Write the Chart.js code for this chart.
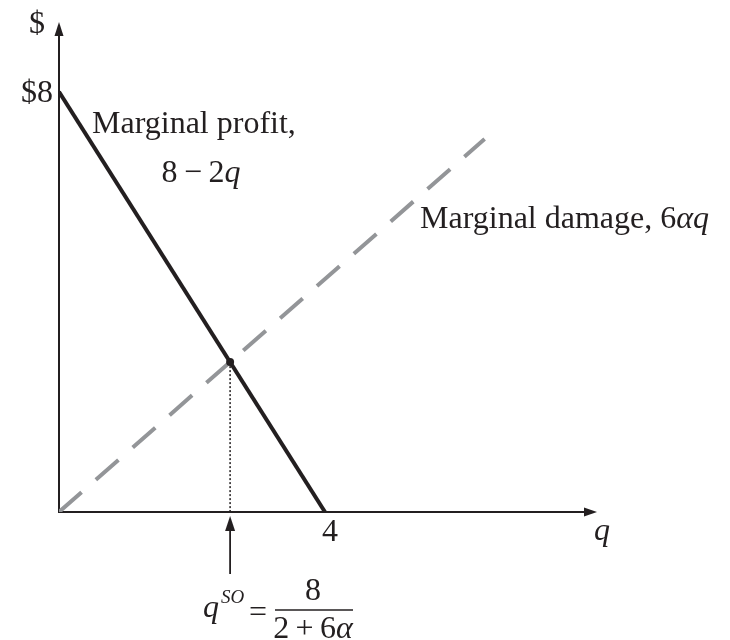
<!DOCTYPE html>
<html>
<head>
<meta charset="utf-8">
<script src="https://cdn.jsdelivr.net/npm/chart.js@4"></script>
<style>
  html, body { margin: 0; padding: 0; background: #fff; }
  canvas { display: block; }
</style>
</head>
<body>
<canvas id="chart" width="730" height="640"></canvas>
<script>
'use strict';

// marginal profit 8 - 2q, from the $8 intercept down to q = 4
const profitQ = [0, 4];
const profitY = [8, 0];

// marginal damage 6αq, dashed ray from the origin
const damageQ = [0, 6.4];
const damageY = [0, 7.1];

// where the two curves cross: q = 8 / (2 + 6α)
const damageSlope = damageY[1] / damageQ[1];
const qSO = 8 / (2 + damageSlope);
const ySO = 8 - 2 * qSO;

const xMax = 8.09;
const yMax = 9.33;

const INK = '#231f20';
const GREY = '#939598';
const SERIF = '"Liberation Serif", "Times New Roman", serif';
const FS = 32;

const pts = (xs, ys) => xs.map((x, i) => ({ x, y: ys[i] }));

// draws a run of [text, italic, size] pieces left to right
function drawRuns(ctx, x, y, runs) {
  runs.forEach(([txt, italic, size]) => {
    ctx.font = `${italic ? 'italic ' : ''}${size || FS}px ${SERIF}`;
    ctx.fillText(txt, x, y);
    x += ctx.measureText(txt).width;
  });
  return x;
}

function runsWidth(ctx, runs) {
  let w = 0;
  runs.forEach(([txt, italic, size]) => {
    ctx.font = `${italic ? 'italic ' : ''}${size || FS}px ${SERIF}`;
    w += ctx.measureText(txt).width;
  });
  return w;
}

function arrowHead(ctx, tipX, tipY, dir, len, half) {
  ctx.beginPath();
  if (dir === 'up') {
    ctx.moveTo(tipX, tipY);
    ctx.lineTo(tipX - half, tipY + len);
    ctx.lineTo(tipX + half, tipY + len);
  } else {
    ctx.moveTo(tipX, tipY);
    ctx.lineTo(tipX - len, tipY - half);
    ctx.lineTo(tipX - len, tipY + half);
  }
  ctx.closePath();
  ctx.fill();
}

const axesAndLabels = {
  id: 'axesAndLabels',
  beforeDatasetsDraw(chart) {
    const { ctx, scales: { x, y } } = chart;
    const x0 = x.getPixelForValue(0), y0 = y.getPixelForValue(0);
    const xEnd = x.getPixelForValue(xMax), yEnd = y.getPixelForValue(yMax);

    ctx.save();
    ctx.strokeStyle = INK;
    ctx.fillStyle = INK;
    ctx.lineWidth = 2;
    ctx.beginPath();
    ctx.moveTo(x0, yEnd + 10);
    ctx.lineTo(x0, y0);
    ctx.lineTo(xEnd - 10, y0);
    ctx.stroke();
    arrowHead(ctx, x0, yEnd, 'up', 14, 4.5);
    arrowHead(ctx, xEnd, y0, 'right', 13, 4.5);

    // drop line from the crossing to the q axis
    ctx.lineWidth = 1.5;
    ctx.setLineDash([2, 2]);
    ctx.beginPath();
    ctx.moveTo(x.getPixelForValue(qSO), y.getPixelForValue(ySO));
    ctx.lineTo(x.getPixelForValue(qSO), y0);
    ctx.stroke();
    ctx.restore();
  },
  afterDraw(chart) {
    const { ctx, scales: { x, y } } = chart;
    const y0 = y.getPixelForValue(0);
    const px = x.getPixelForValue(qSO);

    ctx.save();
    ctx.fillStyle = INK;
    ctx.strokeStyle = INK;
    ctx.textBaseline = 'alphabetic';

    // pointer under the axis
    ctx.lineWidth = 1.8;
    ctx.beginPath();
    ctx.moveTo(px, y0 + 62);
    ctx.lineTo(px, y0 + 14);
    ctx.stroke();
    arrowHead(ctx, px, y0 + 4, 'up', 15, 5);

    // axis labels
    ctx.textAlign = 'left';
    drawRuns(ctx, 29, 33, [['$', false]]);
    ctx.textAlign = 'right';
    drawRuns(ctx, 53, y.getPixelForValue(8) + 10, [['$8', false]]);
    ctx.textAlign = 'center';
    ctx.font = `${FS}px ${SERIF}`;
    ctx.fillText('4', x.getPixelForValue(4) + 5, y0 + 29);
    ctx.textAlign = 'left';
    drawRuns(ctx, 594, y0 + 28, [['q', true]]);

    // curve labels
    drawRuns(ctx, 92, 133, [['Marginal profit,', false]]);
    const mp = [['8', false], ['\u2009\u2212\u2009', false], ['2', false], ['q', true]];
    drawRuns(ctx, 201 - runsWidth(ctx, mp) / 2, 182, mp);
    drawRuns(ctx, 420, 228, [['Marginal damage, ', false], ['6', false], ['\u03b1q', true]]);

    // q^SO = 8 / (2 + 6α)
    drawRuns(ctx, 203, 617, [['q', true]]);
    drawRuns(ctx, 221, 603, [['SO', true, 19]]);
    drawRuns(ctx, 249, 622, [['=', false]]);
    ctx.lineWidth = 1.5;
    ctx.beginPath();
    ctx.moveTo(275, 610);
    ctx.lineTo(353, 610);
    ctx.stroke();
    const num = [['8', false]];
    drawRuns(ctx, 313 - runsWidth(ctx, num) / 2, 600, num);
    const den = [['2', false], ['\u2009+\u2009', false], ['6', false], ['\u03b1', true]];
    drawRuns(ctx, 313 - runsWidth(ctx, den) / 2, 638, den);
    ctx.restore();
  },
};

new Chart(document.getElementById('chart'), {
  type: 'scatter',
  data: {
    datasets: [
      {
        label: 'Marginal profit',
        data: pts(profitQ, profitY),
        showLine: true,
        borderColor: INK,
        borderWidth: 4,
        pointRadius: 0,
        borderCapStyle: 'butt',
      },
      {
        label: 'Social optimum',
        data: [{ x: qSO, y: ySO }],
        pointRadius: 4,
        backgroundColor: INK,
        borderColor: INK,
        borderWidth: 0,
      },
      {
        label: 'Marginal damage',
        data: pts(damageQ, damageY),
        showLine: true,
        borderColor: GREY,
        borderWidth: 4,
        borderDash: [30, 19],
        borderCapStyle: 'butt',
        pointRadius: 0,
      },
    ],
  },
  options: {
    responsive: false,
    animation: false,
    layout: { autoPadding: false, padding: { left: 59, right: 133, top: 22, bottom: 128 } },
    plugins: { legend: { display: false }, tooltip: { enabled: false } },
    scales: {
      x: { type: 'linear', min: 0, max: xMax, display: false },
      y: { type: 'linear', min: 0, max: yMax, display: false },
    },
  },
  plugins: [axesAndLabels],
});
</script>
</body>
</html>
